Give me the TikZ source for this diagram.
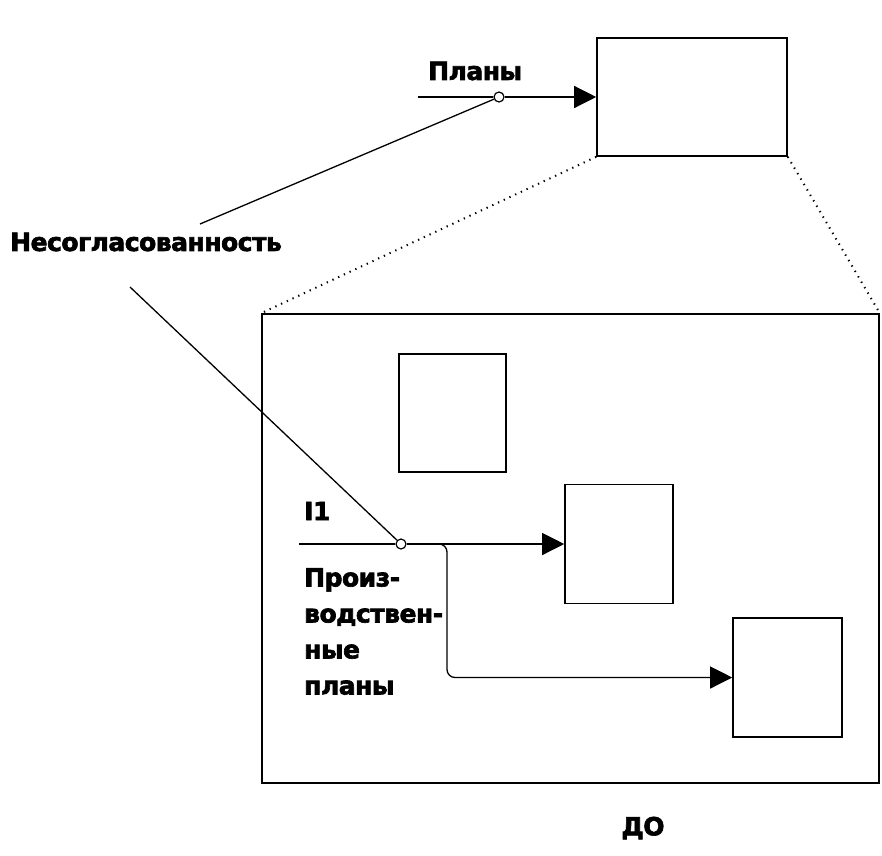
\documentclass[tikz,border=0pt]{standalone}
\usepackage{fontspec}
\setmainfont{DejaVu Sans}
\newfontfamily\heavy{DejaVu Sans Bold}[FakeBold=2.5,LetterSpace=-2]
\usetikzlibrary{arrows.meta}
\tikzset{
  boxnode/.style={draw,line width=1.6pt,rectangle,inner sep=0pt},
  conn/.style={line width=1.3pt},
  arr/.style={conn,-{Triangle[length=22pt,width=22pt]}},
  dotline/.style={line width=2pt,dash pattern=on 1.3pt off 5pt},
  lbl/.style={font=\heavy\fontsize{25}{36}\selectfont,inner sep=0pt},
  junct/.style={circle,draw,line width=1.2pt,fill=white,inner sep=0pt,minimum size=10pt}
}
\begin{document}
\begin{tikzpicture}[x=1pt,y=-1pt]
\useasboundingbox (0,0) rectangle (882,855);
% boxes
\node[boxnode,minimum width=190pt,minimum height=118pt] (top) at (692,97) {};
\node[boxnode,minimum width=617pt,minimum height=469pt] (frame) at (570.5,548.5) {};
\node[boxnode,minimum width=107pt,minimum height=118pt] (b1) at (452.5,413) {};
\node[boxnode,minimum width=108pt,minimum height=119pt] (b2) at (619,544) {};
\node[boxnode,minimum width=109pt,minimum height=119pt] (b3) at (787.5,677.5) {};
% dotted zoom lines
\draw[dotline] (top.south west) -- (frame.north west);
\draw[dotline] (top.south east) -- (frame.north east);
% junctions
\node[junct] (c1) at (499,97) {};
\node[junct] (c2) at (401,544) {};
% top arrow
\coordinate (p0) at (418,97);
\draw[conn] (p0) -- (c1);
\draw[arr] (c1) -- (top.west);
% bottom arrows
\coordinate (q0) at (299,544);
\draw[conn] (q0) -- (c2);
\draw[arr] (c2) -- (b2.west);
\coordinate (br) at (436,544);
\coordinate (bd) at (447,544);
\coordinate (bc) at (447,677.5);
\draw[arr,rounded corners=8pt] (br) -- (bd) -- (bc) -- (b3.west);
% leader lines
\coordinate (n1) at (200,224);
\coordinate (n2) at (130,287);
\draw[conn] (n1) -- (c1);
\draw[conn] (n2) -- (c2);
% labels
\node[lbl,anchor=west] (tplan) at (428,71) {Планы};
\node[lbl,anchor=west] (tnes) at (10,242) {Несогласованность};
\node[lbl,anchor=west] (ti1) at (304,511) {I1};
\node[lbl,anchor=north west,align=left] (tprod) at (304,568) {Произ-\\водствен-\\ные\\планы};
\node[lbl] (tdo) at (643,828) {ДО};
\end{tikzpicture}
\end{document}
